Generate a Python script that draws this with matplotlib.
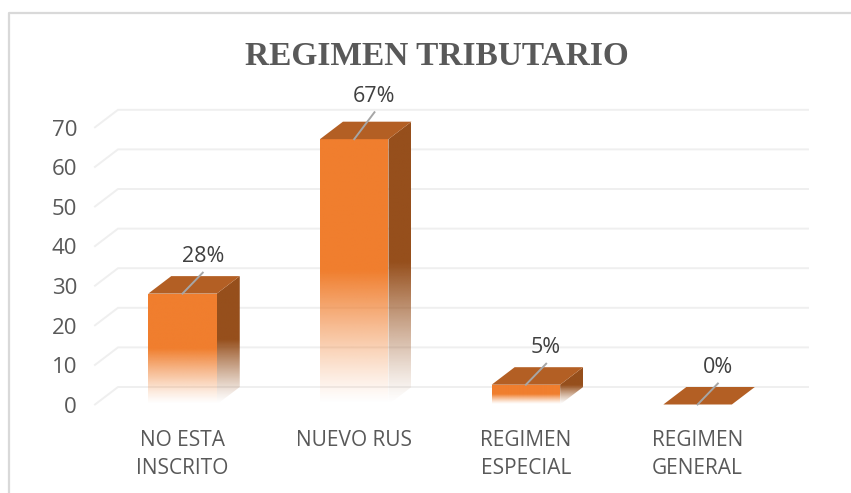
"""
Regimen tributario: 3D-looking column chart, drawn flat with depth offsets.
"""
import numpy as np
import matplotlib
matplotlib.use('Agg')
import matplotlib.pyplot as plt
from matplotlib.patches import Polygon

categories = ['NO ESTA\nINSCRITO', 'NUEVO RUS', 'REGIMEN\nESPECIAL', 'REGIMEN\nGENERAL']
values = [28, 67, 5, 0]
value_labels = ['28%', '67%', '5%', '0%']
y_ticks = [0, 10, 20, 30, 40, 50, 60, 70]
title = 'REGIMEN TRIBUTARIO'

FRONT, SIDE, TOP = '#F07E2E', '#964F1C', '#B35F24'
GRID, TEXT = '#EFEFEF', '#595959'
W, H = 851, 493
PX_X = 171.7    # pixels per category
PX_Y = 3.96     # pixels per value unit
X0, Y0 = 182.5, 404.5
BAR_W = 68.5 / PX_X
DX, DY = 23 / PX_X, 17.5 / PX_Y

plt.rcParams['font.family'] = 'Open Sans'
fig = plt.figure(figsize=(W / 100, H / 100), dpi=100)
ax = fig.add_axes([0, 0, 1, 1])
ax.axis('off')


def fade_face(poly, color, z):
    # solid on the upper half of the bar, fading to white at the base
    patch = Polygon(poly, closed=True, fc='none', ec='none', zorder=z)
    ax.add_patch(patch)
    t = np.linspace(1, 0, 200)[:, None]
    alpha = np.clip(t / 0.5, 0, 1) ** 1.2
    rgba = np.ones((200, 1, 4))
    rgba[..., :3] = matplotlib.colors.to_rgb(color)
    rgba[..., 3] = alpha
    xs = [p[0] for p in poly]
    ys = [p[1] for p in poly]
    im = ax.imshow(rgba, extent=[min(xs), max(xs), min(ys), max(ys)], aspect='auto',
                   origin='upper', zorder=z, interpolation='bilinear')
    im.set_clip_path(patch)


# gridlines: diagonal on the side wall plus the back wall line
x_left = (95 - X0) / PX_X
x_back = x_left + DX
x_right = (808 - X0) / PX_X
for t in y_ticks:
    ax.plot([x_left, x_back, x_right], [t, t + DY, t + DY], color=GRID, lw=1.4, zorder=1,
            solid_joinstyle='miter')
    ax.text((77 - X0) / PX_X, t - 0.7, str(t), ha='right', va='center', fontsize=16, color=TEXT)

for i, (v, lab) in enumerate(zip(values, value_labels)):
    l, r = i - BAR_W / 2, i + BAR_W / 2
    if v > 0:
        fade_face([(l, 0), (r, 0), (r, v), (l, v)], FRONT, 3)
        fade_face([(r, 0), (r + DX, DY), (r + DX, v + DY), (r, v)], SIDE, 3)
    ax.add_patch(Polygon([(l, v), (r, v), (r + DX, v + DY), (l + DX, v + DY)], closed=True,
                         fc=TOP, ec='none', zorder=4))
    # leader line and percentage
    x_end = i + 0.118
    y_end = v + (6.8 if i == 1 else 5.3)
    ax.plot([i, x_end], [v, y_end], color='#A6A6A6', lw=1.4, zorder=5)
    ax.text(x_end, y_end + 4.0, lab, ha='center', va='center', fontsize=15.5, color='#404040')
    ax.text(i, -(429.5 - Y0) / PX_Y, categories[i], ha='center', va='top', fontsize=15,
            color=TEXT, linespacing=1.45)

ax.text((436.5 - X0) / PX_X, (Y0 - 57) / PX_Y, title, ha='center', va='center',
        fontsize=24, fontweight='bold', family='Liberation Serif', color=TEXT)

# outer frame of the pasted chart
ax.plot([(9 - X0) / PX_X, (9 - X0) / PX_X, (851 - X0) / PX_X],
        [-(W), (Y0 - 13) / PX_Y, (Y0 - 13) / PX_Y], color='#D9D9D9', lw=1.6, zorder=1)

ax.set_xlim(-X0 / PX_X, (W - X0) / PX_X)
ax.set_ylim(-(H - Y0) / PX_Y, Y0 / PX_Y)
plt.savefig('out.png', dpi=100)
plt.close()
